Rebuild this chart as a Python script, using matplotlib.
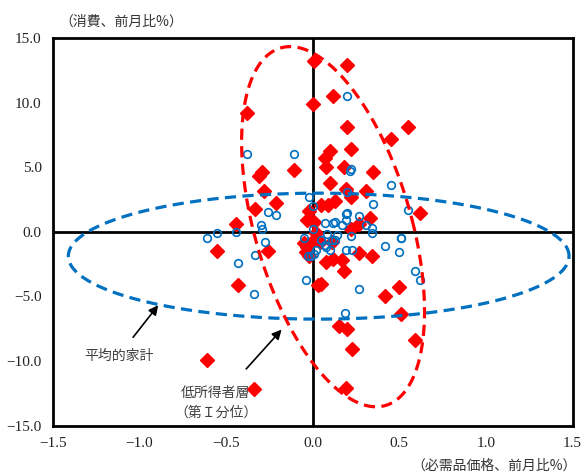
import numpy as np
import matplotlib
matplotlib.use("Agg")
import matplotlib.pyplot as plt

plt.rcParams['font.family'] = ['Noto Sans CJK JP', 'DejaVu Sans']

# 低所得者層（第I分位）: (必需品価格, 消費)
low_x = [0.01, 0.20, 0.12, 0.00, -0.38, 0.20, 0.55, 0.45, 0.10, 0.22, 0.07, 0.08, -0.11, 0.18,
         -0.31, -0.29, 0.35, 0.10, -0.28, 0.19, 0.22, 0.31, 0.13, -0.21, -0.33, 0.05, 0.09, -0.02,
         0.62, 0.33, -0.03, 0.01, 0.27, -0.44, 0.22, 0.02, 0.01, 0.04, 0.11, -0.05, -0.03, -0.04,
         -0.02, -0.55, -0.26, 0.08, 0.12, 0.17, 0.18, 0.27, 0.34, -0.43, 0.03, 0.05, 0.50, 0.42,
         0.51, 0.15, 0.20, 0.59, 0.23, -0.61, -0.34, 0.19]
low_y = [13.2, 12.9, 10.5, 9.9, 9.2, 8.1, 8.1, 7.2, 6.3, 6.4, 5.7, 5.0, 4.8, 5.0,
         4.3, 4.6, 4.6, 3.8, 3.2, 3.3, 2.7, 3.2, 2.4, 2.2, 1.8, 2.1, 2.1, 1.6,
         1.5, 1.1, 0.9, 0.8, 0.6, 0.6, 0.2, -0.1, -0.6, -0.8, -0.8, -0.9, -1.2, -1.55,
         -1.9, -1.5, -1.5, -2.3, -2.1, -2.2, -3.0, -1.6, -1.9, -4.1, -4.1, -4.0, -4.3, -5.0,
         -6.4, -7.3, -7.5, -8.4, -9.1, -9.9, -12.2, -12.1]

# 平均的家計
avg_x = [0.20, -0.38, -0.11, 0.22, 0.215, 0.45, 0.20, -0.02, 0.35, 0.00, 0.55, -0.26, -0.21,
         0.19, 0.20, 0.265, -0.30, -0.29, 0.07, 0.12, 0.13, 0.17, 0.195, 0.31, 0.34, -0.55,
         -0.44, -0.61, -0.05, 0.34, 0.51, 0.00, 0.085, 0.14, 0.22, 0.05, 0.11, 0.13, 0.07,
         0.08, 0.10, 0.02, 0.01, -0.025, -0.01, -0.275, -0.33, -0.43, -0.34, -0.04, 0.19,
         0.23, 0.27, 0.185, 0.42, 0.50, 0.51, 0.59, 0.62]
avg_y = [10.5, 6.0, 6.0, 4.9, 4.75, 3.6, 3.05, 2.7, 2.15, 2.0, 1.7, 1.55, 1.3,
         1.4, 1.5, 1.25, 0.5, 0.2, 0.7, 0.7, 0.8, 0.5, 0.95, 0.5, 0.3, -0.1,
         0.0, -0.45, -0.45, -0.1, -0.45, 0.25, -0.2, -0.25, -0.3, -0.6, -0.65, -0.6, -1.0,
         -1.15, -1.4, -1.4, -1.7, -1.9, -1.9, -0.8, -1.8, -2.4, -4.85, -3.75, -1.4,
         -1.4, -4.4, -6.3, -1.1, -1.55, -0.5, -3.0, -3.7]

# ellipse parameters (data units): centre, conjugate half-axis vectors
avg_ell_center = (0.035, -1.88)
avg_ell_u = (1.445, 0.0)
avg_ell_v = (0.0, 4.88)
low_ell_center = (0.118, 0.40)
low_ell_u = (0.466, 0.0)
low_ell_v = (-0.248, 13.95)

xticks = [-1.5, -1.0, -0.5, 0.0, 0.5, 1.0, 1.5]
yticks = [-15.0, -10.0, -5.0, 0.0, 5.0, 10.0, 15.0]

BLUE = '#0070C0'
RED = '#FF0000'

fig = plt.figure(figsize=(5.86, 4.72), dpi=100)
ax = fig.add_axes([0.09, 0.0985, 0.887, 0.8205])

ax.axhline(0, color='black', lw=2, zorder=1)
ax.axvline(0, color='black', lw=2, zorder=1)

ax.plot(low_x, low_y, linestyle='none', marker='D', ms=7, color=RED, mec=RED, zorder=3)
ax.plot(avg_x, avg_y, linestyle='none', marker='o', ms=5.5, mfc='none', mec=BLUE, mew=1.2, zorder=4)

t = np.linspace(0, 2 * np.pi, 400)
def ell(c, u, v):
    return (c[0] + u[0] * np.cos(t) + v[0] * np.sin(t),
            c[1] + u[1] * np.cos(t) + v[1] * np.sin(t))

ex, ey = ell(avg_ell_center, avg_ell_u, avg_ell_v)
ax.plot(ex, ey, color=BLUE, lw=2.3, dashes=(3.5, 2), zorder=5)
ex, ey = ell(low_ell_center, low_ell_u, low_ell_v)
ax.plot(ex, ey, color=RED, lw=2.3, dashes=(3.5, 2), zorder=5)

ax.set_xlim(-1.5, 1.5)
ax.set_ylim(-15, 15)
ax.set_xticks(xticks)
ax.set_yticks(yticks)
ax.set_xticklabels([f'{v:.1f}'.replace('-', '\u2212') for v in xticks],
                   family=['Liberation Serif', 'DejaVu Serif'])
ax.set_yticklabels([f'{v:.1f}'.replace('-', '\u2212') for v in yticks],
                   family=['Liberation Serif', 'DejaVu Serif'])
ax.tick_params(length=0, labelsize=11, pad=8, colors='#222222')
for s in ax.spines.values():
    s.set_linewidth(2)
    s.set_color('black')

fig.text(0.102, 0.955, '（消費、前月比%）', fontsize=10, color='#333333', ha='left', va='center')
fig.text(0.985, 0.013, '（必需品価格、前月比%）', fontsize=10, color='#333333', ha='right', va='center')

ax.annotate('平均的家計', xy=(-0.891, -5.68), xytext=(-1.12, -9.6),
            fontsize=10, color='#404040', ha='center', va='center',
            arrowprops=dict(arrowstyle='-|>', color='black', lw=1.2, mutation_scale=14,
                            shrinkA=8, shrinkB=0))
ax.annotate('低所得者層\n（第Ｉ分位）', xy=(-0.179, -7.57), xytext=(-0.56, -13.25),
            fontsize=10, color='#404040', ha='center', va='center', linespacing=1.5,
            arrowprops=dict(arrowstyle='-|>', color='black', lw=1.2, mutation_scale=14,
                            shrinkA=14, shrinkB=0))

fig.savefig('out.png', dpi=100)
